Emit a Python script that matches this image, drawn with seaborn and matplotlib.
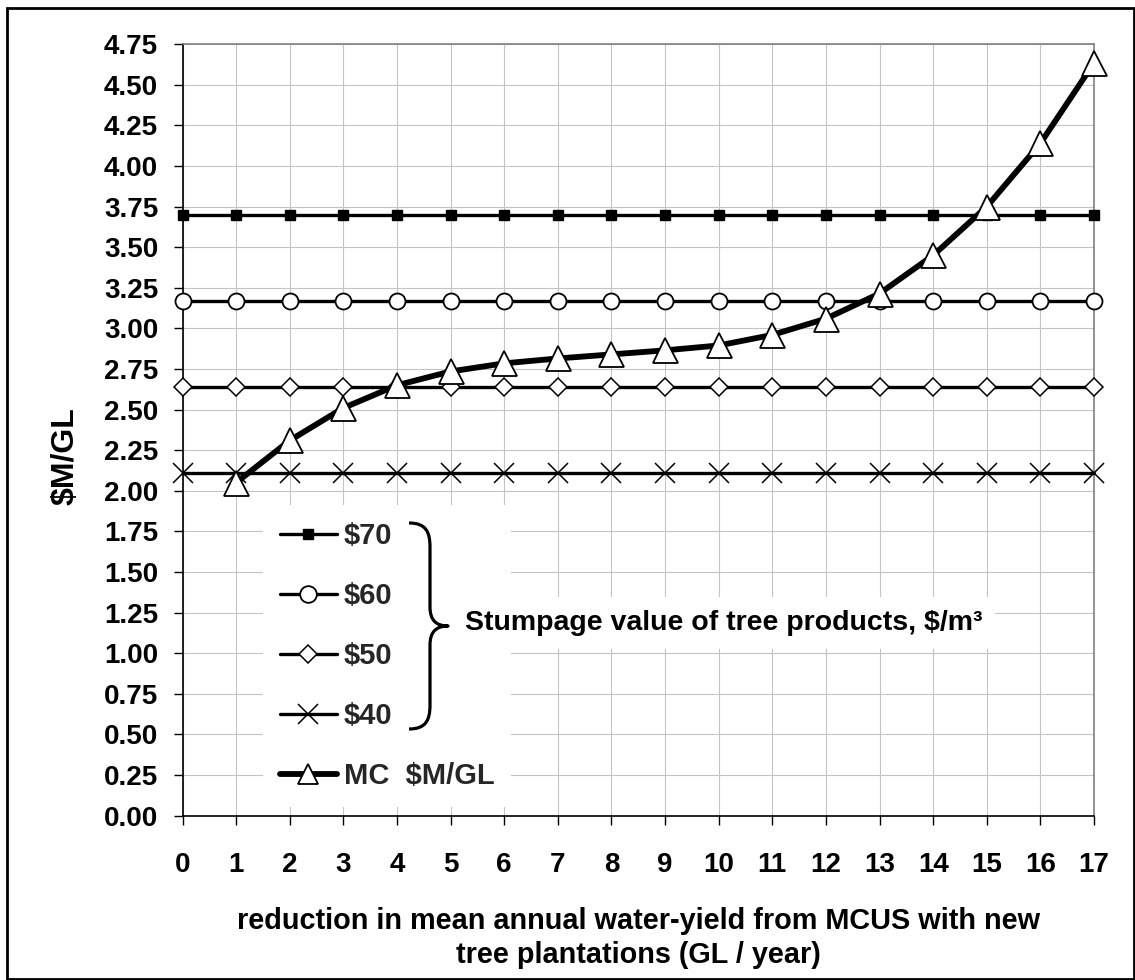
import matplotlib
matplotlib.use("Agg")
import matplotlib.pyplot as plt
from matplotlib.path import Path
from matplotlib.patches import PathPatch, Rectangle
from matplotlib.transforms import Affine2D
import seaborn as sns

# ---------------- data ----------------
reduction_gl = [0, 1, 2, 3, 4, 5, 6, 7, 8, 9, 10, 11, 12, 13, 14, 15, 16, 17]
stumpage_70 = [3.70, 3.70, 3.70, 3.70, 3.70, 3.70, 3.70, 3.70, 3.70,
               3.70, 3.70, 3.70, 3.70, 3.70, 3.70, 3.70, 3.70, 3.70]
stumpage_60 = [3.17, 3.17, 3.17, 3.17, 3.17, 3.17, 3.17, 3.17, 3.17,
               3.17, 3.17, 3.17, 3.17, 3.17, 3.17, 3.17, 3.17, 3.17]
stumpage_50 = [2.64, 2.64, 2.64, 2.64, 2.64, 2.64, 2.64, 2.64, 2.64,
               2.64, 2.64, 2.64, 2.64, 2.64, 2.64, 2.64, 2.64, 2.64]
stumpage_40 = [2.11, 2.11, 2.11, 2.11, 2.11, 2.11, 2.11, 2.11, 2.11,
               2.11, 2.11, 2.11, 2.11, 2.11, 2.11, 2.11, 2.11, 2.11]
mc_reduction = [1, 2, 3, 4, 5, 6, 7, 8, 9, 10, 11, 12, 13, 14, 15, 16, 17]
mc_cost = [2.05, 2.31, 2.51, 2.65, 2.735, 2.785, 2.815, 2.84, 2.865,
           2.895, 2.96, 3.06, 3.215, 3.45, 3.75, 4.14, 4.635]
y_ticks = [0.00, 0.25, 0.50, 0.75, 1.00, 1.25, 1.50, 1.75, 2.00, 2.25,
           2.50, 2.75, 3.00, 3.25, 3.50, 3.75, 4.00, 4.25, 4.50, 4.75]
series_labels = ["$70", "$60", "$50", "$40", "MC  $M/GL"]
y_label = "$M/GL"
x_label = ("reduction in mean annual water-yield from MCUS with new\n"
           "tree plantations (GL / year)")
brace_text = "Stumpage value of tree products, $/m\u00b3"

# ---------------- style ----------------
sns.set_theme(style="white")
plt.rcParams["font.family"] = ["Liberation Sans", "DejaVu Sans"]
plt.rcParams["font.weight"] = "bold"
plt.rcParams["axes.labelweight"] = "bold"

W, H = 1135, 980
fig = plt.figure(figsize=(W / 100, H / 100), dpi=100)
fig.patch.set_facecolor("white")
L, R, T, B = 182.5, 1094.0, 44.3, 815.5
ax = fig.add_axes([L / W, (H - B) / H, (R - L) / W, (B - T) / H])
ax.set_facecolor("white")

common = dict(ax=ax, color="black", clip_on=False, errorbar=None)
sns.lineplot(x=reduction_gl, y=stumpage_70, linewidth=2.4, marker="s",
             markersize=7, markerfacecolor="black", markeredgecolor="black",
             markeredgewidth=1.0, zorder=3, **common)
sns.lineplot(x=reduction_gl, y=stumpage_60, linewidth=2.4, marker="o",
             markersize=11.5, markerfacecolor="white", markeredgecolor="black",
             markeredgewidth=1.3, zorder=3, **common)
sns.lineplot(x=reduction_gl, y=stumpage_50, linewidth=2.4, marker="D",
             markersize=9.5, markerfacecolor="white", markeredgecolor="black",
             markeredgewidth=1.1, zorder=3, **common)
sns.lineplot(x=reduction_gl, y=stumpage_40, linewidth=2.4, marker="x",
             markersize=14, markerfacecolor="black", markeredgecolor="black",
             markeredgewidth=1.1, zorder=3, **common)
sns.lineplot(x=mc_reduction, y=mc_cost, linewidth=4.2, marker="^",
             markersize=18, markerfacecolor="white", markeredgecolor="black",
             markeredgewidth=1.3, zorder=4, **common)

lines = list(ax.get_lines())[:5]

# ---------------- axes ----------------
ax.set_xlim(0, 17)
ax.set_ylim(0, 4.75)
ax.set_xticks(reduction_gl)
ax.set_xticklabels([str(v) for v in reduction_gl])
ax.set_yticks(y_ticks)
ax.set_yticklabels([f"{v:.2f}" for v in y_ticks])
ax.grid(True, color="#c4c4c4", linewidth=0.8)
ax.set_axisbelow(True)
for side in ("top", "right"):
    ax.spines[side].set_color("#808080")
    ax.spines[side].set_linewidth(1.2)
for side in ("left", "bottom"):
    ax.spines[side].set_color("black")
    ax.spines[side].set_linewidth(1.2)
ax.tick_params(axis="both", which="major", direction="out", length=6.5,
               width=1.0, color="black", labelcolor="black",
               left=True, bottom=True)
ax.tick_params(axis="y", labelsize=20, pad=11)
ax.tick_params(axis="x", labelsize=20, pad=20)
for lab in ax.get_xticklabels() + ax.get_yticklabels():
    lab.set_fontweight("bold")

ax.set_ylabel(y_label, fontsize=23, fontweight="bold", color="black")
ax.yaxis.set_label_coords(-0.112, 0.466)
ax.text(0.5, -0.159, x_label, transform=ax.transAxes, ha="center",
        va="center", fontsize=20.8, fontweight="bold", color="black",
        linespacing=1.3, multialignment="center")

# ---------------- legend ----------------
leg = ax.legend(handles=lines, labels=series_labels, loc="upper left",
                bbox_to_anchor=((263 - L) / (R - L), (B - 505) / (B - T)),
                borderaxespad=0, frameon=True, fancybox=False,
                facecolor="white", edgecolor="none", framealpha=1,
                fontsize=21, handlelength=1.95, handletextpad=0.24,
                labelspacing=1.1, borderpad=0.58, numpoints=1)
for t in leg.get_texts():
    t.set_fontweight("bold")
hs = leg.legend_handles
hs[1].set_markersize(12)
hs[4].set_markersize(14)
leg.set_zorder(5)

# ---------------- brace + annotation ----------------
px = Affine2D().scale(1 / 100, -1 / 100).translate(0, H / 100) + fig.dpi_scale_trans
verts = [(409, 523), (426, 523), (430, 532), (430, 547),
         (430, 607),
         (430, 620), (436, 626), (448, 626),
         (436, 626), (430, 632), (430, 645),
         (430, 705),
         (430, 720), (426, 729), (409, 729)]
codes = [Path.MOVETO, Path.CURVE4, Path.CURVE4, Path.CURVE4,
         Path.LINETO,
         Path.CURVE4, Path.CURVE4, Path.CURVE4,
         Path.CURVE4, Path.CURVE4, Path.CURVE4,
         Path.LINETO,
         Path.CURVE4, Path.CURVE4, Path.CURVE4]
brace = PathPatch(Path(verts, codes), transform=px, facecolor="none",
                  edgecolor="black", linewidth=2.3, zorder=6,
                  capstyle="butt", joinstyle="round")
fig.add_artist(brace)

ax.text((465 - L) / (R - L), (B - 630) / (B - T), brace_text,
        transform=ax.transAxes, ha="left", va="baseline", fontsize=20.5,
        fontweight="bold", color="black", zorder=6,
        bbox=dict(boxstyle="square,pad=0.45", facecolor="white",
                  edgecolor="none"))

# ---------------- outer frame ----------------
frame = Rectangle((7, 8), 1127, 971, transform=px, facecolor="none",
                  edgecolor="black", linewidth=2, zorder=10)
fig.add_artist(frame)

fig.savefig("out.png", dpi=100, facecolor="white")
